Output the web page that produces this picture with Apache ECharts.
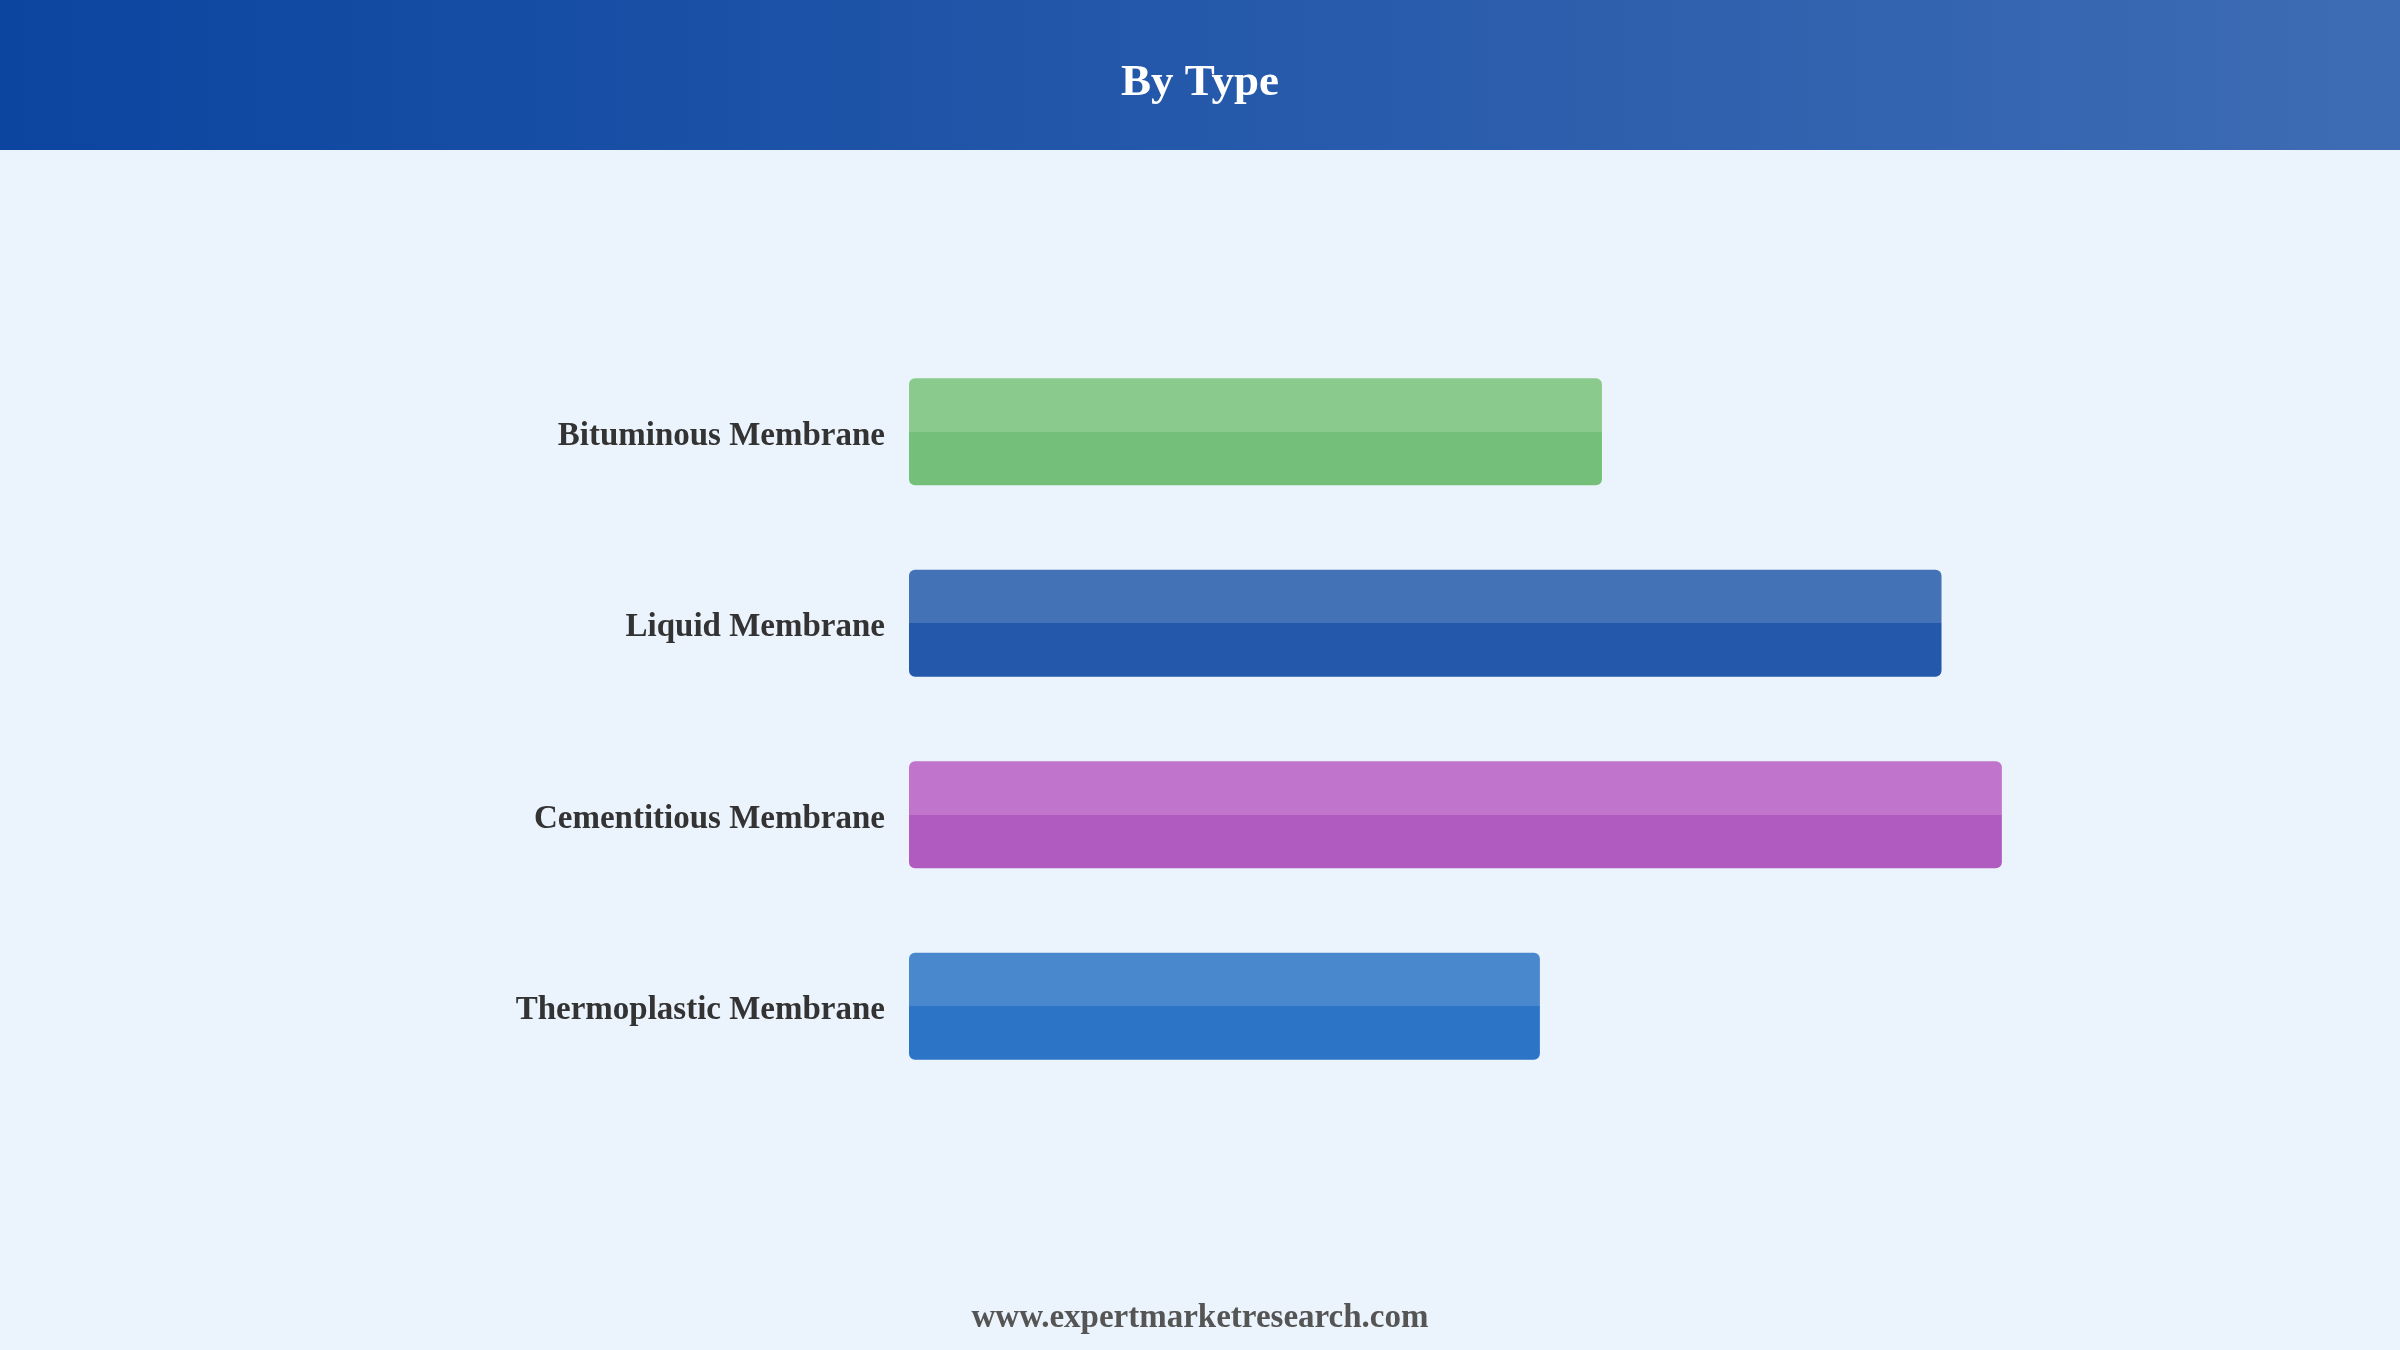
<!DOCTYPE html>
<html>
<head>
<meta charset="utf-8">
<script src="https://cdn.jsdelivr.net/npm/echarts@6/dist/echarts.min.js"></script>
<style>
html,body{margin:0;padding:0;background:#ebf3fc;}
#c{width:2400px;height:1350px;}
</style>
</head>
<body>
<div id="c"></div>
<script>
var categories = ['Bituminous Membrane', 'Liquid Membrane', 'Cementitious Membrane', 'Thermoplastic Membrane'];
var values = [20.1, 29.95, 31.7, 18.3];
var topColors = ['#8aca8c', '#4372b6', '#c074cb', '#4a88ce'];
var bottomColors = ['#74c07a', '#2458aa', '#b05bbf', '#2c74c6'];
var titleText = 'By Type';
var footerText = 'www.expertmarketresearch.com';

var chart = echarts.init(document.getElementById('c'));
var data = values.map(function (v, i) {
  return {
    value: v,
    itemStyle: {
      color: {
        type: 'linear', x: 0, y: 0, x2: 0, y2: 1,
        colorStops: [
          {offset: 0, color: topColors[i]},
          {offset: 0.5, color: topColors[i]},
          {offset: 0.5, color: bottomColors[i]},
          {offset: 1, color: bottomColors[i]}
        ]
      }
    }
  };
});
var labelFont = '"Liberation Serif", "Times New Roman", serif';
chart.setOption({
  backgroundColor: '#ebf3fc',
  animation: false,
  graphic: [
    {
      type: 'rect', left: 0, top: 0, z: 0,
      shape: {width: 2400, height: 150},
      style: {
        fill: {
          type: 'linear', x: 0, y: 0, x2: 1, y2: 0,
          colorStops: [{offset: 0, color: '#0b45a0'}, {offset: 1, color: '#3e6cb4'}]
        }
      }
    },
    {
      type: 'text', left: 'center', top: 61, z: 2,
      style: {text: titleText, fill: '#ffffff', font: 'bold 45px ' + labelFont}
    },
    {
      type: 'text', left: 'center', top: 1302, z: 2,
      style: {text: footerText, fill: '#555555', font: 'bold 33px ' + labelFont}
    }
  ],
  grid: {left: 909, right: 112, top: 336, bottom: 248, containLabel: false},
  xAxis: {type: 'value', min: 0, max: 40, show: false, splitLine: {show: false}},
  yAxis: {
    type: 'category', data: categories, inverse: true,
    axisLine: {show: false}, axisTick: {show: false},
    axisLabel: {
      margin: 24,
      formatter: function (v) { return '{a|' + v + '}'; },
      rich: {
        a: {
          color: '#333333', fontSize: 33, fontWeight: 'bold', fontFamily: labelFont,
          padding: [9, 0, 0, 0]
        }
      }
    }
  },
  series: [{
    type: 'bar', data: data, barWidth: 107,
    itemStyle: {borderRadius: 6}
  }]
});
</script>
</body>
</html>
